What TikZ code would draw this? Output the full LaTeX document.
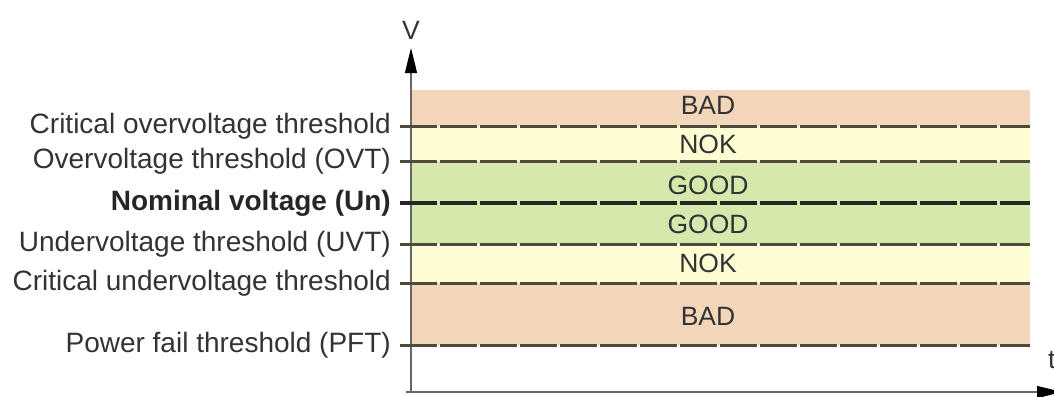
\documentclass[tikz,border=0pt]{standalone}
\usepackage{fontspec}
\setmainfont{Liberation Sans}
\usetikzlibrary{arrows.meta,positioning}
\definecolor{badc}{HTML}{F3D6BA}
\definecolor{nokc}{HTML}{FEFCD3}
\definecolor{goodc}{HTML}{D5E9AC}
\definecolor{txtc}{HTML}{333333}
\definecolor{dashc}{HTML}{4E4A3C}
\tikzset{
  lbl/.style={anchor=east, inner sep=0pt, text=txtc, font=\fontsize{28}{30}\selectfont},
  zone/.style={inner sep=0pt, text=txtc, font=\fontsize{26.5}{29}\selectfont},
  thr/.style={draw=dashc, line width=3pt, dash pattern=on 37pt off 3pt},
  axis/.style={draw=black!60, line width=1.2pt, -{Triangle[length=25pt,width=12pt,color=black]}}
}
\begin{document}
\begin{tikzpicture}[x=1pt, y=-1pt]
    \useasboundingbox (0,0) rectangle (1054,396);

    % Bands
    \fill[badc]  (411,90)  rectangle (1030,126);
    \fill[nokc]  (411,126) rectangle (1030,161);
    \fill[goodc] (411,161) rectangle (1030,244);
    \fill[nokc]  (411,244) rectangle (1030,283);
    \fill[badc]  (411,283) rectangle (1030,345);

    % Band labels
    \node[zone] (bad1) at (708,105) {BAD};
    \node[zone] (nok1) at (708,144) {NOK};
    \node[zone] (good1) at (708,185) {GOOD};
    \node[zone] (good2) at (708,224) {GOOD};
    \node[zone] (nok2) at (708,263) {NOK};
    \node[zone] (bad2) at (708,316) {BAD};

    % Axes
    \coordinate (orig) at (411,392);
    \coordinate (vtop) at (411,48);
    \coordinate (tend) at (1062,392);
    \draw[axis] (orig) -- (vtop);
    \draw[axis] ([xshift=-5pt]orig) -- (tend);
    \node[zone, above=8pt of vtop] (vlab) {V};
    \node[zone, anchor=west] (tlab) at (1048,360) {t};

    % Thresholds
    \node[lbl] (cov) at (391,126) {Critical overvoltage threshold};
    \node[lbl] (ovt) at (391,161) {Overvoltage threshold (OVT)};
    \node[lbl, font=\fontsize{28}{30}\selectfont\bfseries, text=black!85] (un) at (391,203) {Nominal voltage (Un)};
    \node[lbl] (uvt) at (391,244) {Undervoltage threshold (UVT)};
    \node[lbl] (cuv) at (391,283) {Critical undervoltage threshold};
    \node[lbl] (pft) at (391,345) {Power fail threshold (PFT)};

    \coordinate (covE) at (1030,126);
    \coordinate (ovtE) at (1030,161);
    \coordinate (unE) at (1030,203);
    \coordinate (uvtE) at (1030,244);
    \coordinate (cuvE) at (1030,283);
    \coordinate (pftE) at (1030,345);

    \draw[thr] ([xshift=9pt]cov.east) -- (covE);
    \draw[thr] ([xshift=9pt]ovt.east) -- (ovtE);
    \draw[thr, draw=black!85, line width=3.8pt] ([xshift=9pt]un.east) -- (unE);
    \draw[thr] ([xshift=9pt]uvt.east) -- (uvtE);
    \draw[thr] ([xshift=9pt]cuv.east) -- (cuvE);
    \draw[thr] ([xshift=9pt]pft.east) -- (pftE);
\end{tikzpicture}
\end{document}
